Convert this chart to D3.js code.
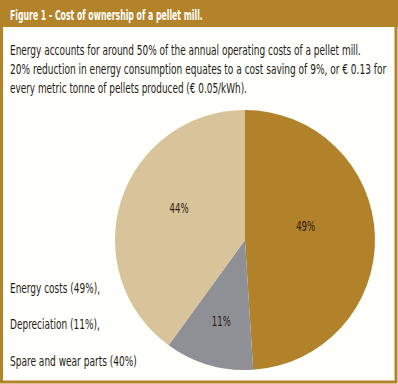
<!DOCTYPE html>
<html>
<head>
<meta charset="utf-8">
<script src="https://cdn.jsdelivr.net/npm/d3@7"></script>
<style>
  html, body { margin: 0; padding: 0; background: #ffffff; }
  svg { display: block; }
  text { font-family: "Liberation Sans Narrow", "DejaVu Sans Condensed", "Roboto Condensed", sans-serif; }
</style>
</head>
<body>
<svg id="chart" width="398" height="384"></svg>
<script>
// ---- data ----
const title = "Figure 1 - Cost of ownership of a pellet mill.";
const introLines = [
  "Energy accounts for around 50% of the annual operating costs of a pellet mill.",
  "20% reduction in energy consumption equates to a cost saving of 9%, or € 0.13 for",
  "every metric tonne of pellets produced (€ 0.05/kWh)."
];
const categories = ["Energy costs", "Depreciation", "Spare and wear parts"];
const values = [49, 11, 40];              // slice sizes as drawn
const sliceLabels = ["49%", "11%", "44%"]; // labels printed on the slices
const legendLabels = ["Energy costs (49%),", "Depreciation (11%),", "Spare and wear parts (40%)"];

// ---- layout ----
const W = 398, H = 384;
const gold = "#b3832a";
const colors = ["#b1822a", "#8f9095", "#d9c39a"];
const svg = d3.select("#chart");

// background + frame
svg.append("rect").attr("x", 0).attr("y", 0).attr("width", W).attr("height", H).attr("fill", "#fffffb");
svg.append("rect").attr("x", 1.5).attr("y", 0).attr("width", W - 3.5).attr("height", H - 2)
  .attr("fill", "none").attr("stroke", gold).attr("stroke-width", 3);
svg.append("rect").attr("x", 0).attr("y", 0).attr("width", W).attr("height", 27).attr("fill", gold);

// draw a text scaled horizontally to a target width (condensed look)
function squeezed(parent, str, x, y, w, opts) {
  const t = parent.append("text").attr("x", 0).attr("y", 0)
    .attr("font-size", opts.size).attr("fill", opts.fill)
    .attr("font-weight", opts.weight || "normal")
    .attr("text-anchor", opts.anchor || "start")
    .text(str);
  const nat = t.node().getComputedTextLength();
  const s = w / nat;
  t.attr("transform", `translate(${x},${y}) scale(${s},1)`);
  return t;
}

squeezed(svg, title, 10, 19.5, 193, { size: 14.5, fill: "#ffffff", weight: "bold" });

const introW = [351, 377, 237];
introLines.forEach((line, i) =>
  squeezed(svg, line, 10, 55 + i * 19, introW[i], { size: 13.5, fill: "#1e1a17" }));

// pie
const cx = 245, cy = 240, r = 130;
const pie = d3.pie().sort(null).value(d => d)(values);
const arc = d3.arc().innerRadius(0).outerRadius(r);
const g = svg.append("g").attr("transform", `translate(${cx},${cy})`);
g.selectAll("path").data(pie).join("path")
  .attr("d", arc).attr("fill", (d, i) => colors[i]);

const labelRadius = [62, 85, 73];
const labelAngleShift = [-0.18, 0, 0.13];
pie.forEach((d, i) => {
  const a = (d.startAngle + d.endAngle) / 2 + labelAngleShift[i];
  const p = d3.pointRadial(a, labelRadius[i]);
  squeezed(g, sliceLabels[i], p[0], p[1] + 4.5, 19, { size: 13.5, fill: "#2a1d10", anchor: "middle" });
});

// legend text
const legendW = [90, 90, 127];
legendLabels.forEach((s, i) =>
  squeezed(svg, s, 10, 292.5 + i * 36.5, legendW[i], { size: 13.5, fill: "#1e1a17" }));
</script>
</body>
</html>
